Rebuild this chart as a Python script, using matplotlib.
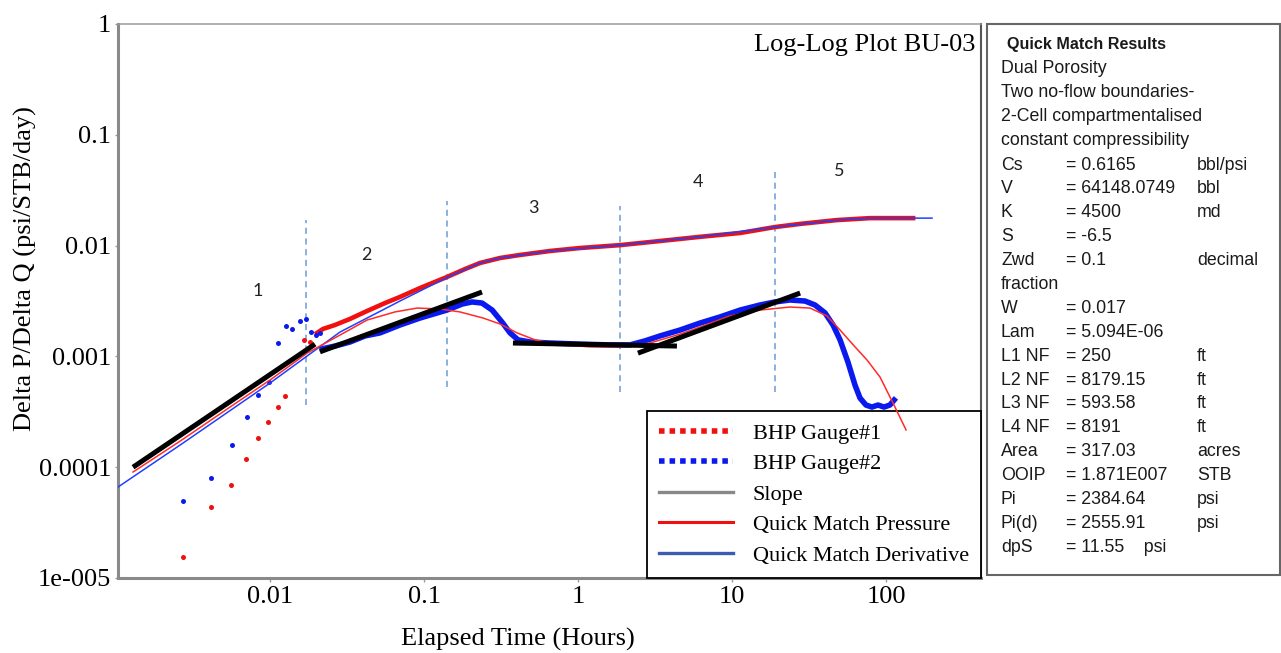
import matplotlib
matplotlib.use('Agg')
from matplotlib import pyplot as plt
from matplotlib import font_manager
from matplotlib.lines import Line2D
from matplotlib.patches import Rectangle
from matplotlib.ticker import FixedLocator, FixedFormatter, NullLocator

installed = {f.name for f in font_manager.fontManager.ttflist}
SERIF = 'Liberation Serif' if 'Liberation Serif' in installed else 'DejaVu Serif'
PANEL = 'Liberation Sans' if 'Liberation Sans' in installed else 'DejaVu Sans'
NUMS = 'Lato' if 'Lato' in installed else PANEL

# ---- data ----
# gauge 1 (red) early points + dense pressure curve
g1_early_t = [0.00272, 0.00414, 0.00558, 0.00698, 0.00836, 0.00971, 0.0113, 0.0125, 0.0166, 0.0182]
g1_early_p = [1.55e-5, 4.37e-5, 6.9e-5, 1.19e-4, 1.84e-4, 2.56e-4, 3.49e-4, 4.39e-4, 1.41e-3, 1.35e-3]
g1_t = [0.0202, 0.0221, 0.0264, 0.0331, 0.0427, 0.0558, 0.0698, 0.0942, 0.141, 0.185, 0.231,
        0.312, 0.420, 0.658, 1.03, 1.875, 3.41, 6.20, 11.3, 19.0, 27.7, 48.1, 78.7, 150]
g1_p = [1.63e-3, 1.77e-3, 1.92e-3, 2.18e-3, 2.57e-3, 3.03e-3, 3.44e-3, 4.14e-3, 5.21e-3, 6.15e-3, 6.97e-3,
        7.73e-3, 8.23e-3, 8.94e-3, 9.51e-3, 0.0101, 0.0110, 0.0120, 0.0130, 0.0147, 0.0157, 0.0170, 0.0177, 0.0177]

# gauge 2 (blue) early points + dense derivative curve
g2_early_t = [0.00272, 0.00414, 0.00566, 0.0071, 0.00836, 0.00985, 0.0113, 0.0127, 0.0139, 0.0157,
              0.0171, 0.0185, 0.0199, 0.0211]
g2_early_d = [4.95e-5, 8.0e-5, 1.59e-4, 2.84e-4, 4.49e-4, 5.87e-4, 1.32e-3, 1.88e-3, 1.77e-3, 2.09e-3,
              2.18e-3, 1.66e-3, 1.56e-3, 1.63e-3]
g2_t = [0.0218, 0.0264, 0.0331, 0.0414, 0.0518, 0.0698, 0.0942, 0.141, 0.177, 0.205, 0.238, 0.277,
        0.321, 0.362, 0.408, 0.488, 0.658, 1.03, 1.61, 2.18, 2.72, 3.41, 4.60, 6.20, 8.36, 11.3,
        15.2, 19.0, 23.8, 29.8, 34.6, 40.2, 45.3, 50.3, 56.6, 62.9, 67.8, 74.1, 81.1, 88.7, 97.1, 106, 113]
g2_d = [1.17e-3, 1.24e-3, 1.35e-3, 1.53e-3, 1.63e-3, 1.92e-3, 2.22e-3, 2.62e-3, 2.97e-3, 3.10e-3,
        3.03e-3, 2.62e-3, 2.04e-3, 1.63e-3, 1.41e-3, 1.35e-3, 1.32e-3, 1.29e-3, 1.27e-3, 1.27e-3,
        1.38e-3, 1.53e-3, 1.73e-3, 2.00e-3, 2.27e-3, 2.62e-3, 2.91e-3, 3.10e-3, 3.23e-3, 3.16e-3,
        2.91e-3, 2.47e-3, 1.92e-3, 1.41e-3, 8.9e-4, 5.52e-4, 4.21e-4, 3.64e-4, 3.49e-4, 3.64e-4,
        3.49e-4, 3.64e-4, 4.04e-4]

# quick match model curves
qm_p_t = [0.00103, 0.00272, 0.01, 0.0285, 0.0698, 0.141, 0.231, 0.312, 0.658, 1.875, 6.20, 19.0,
          48.1, 78.7, 150, 199]
qm_p = [6.62e-5, 1.65e-4, 5.75e-4, 1.66e-3, 3.16e-3, 5.15e-3, 6.97e-3, 7.73e-3, 8.94e-3, 0.0101,
        0.0120, 0.0147, 0.0170, 0.0177, 0.0177, 0.0177]
qm_d_t = [0.00129, 0.00261, 0.0055, 0.01, 0.0174, 0.0285, 0.0427, 0.0648, 0.0901, 0.127, 0.171,
          0.242, 0.312, 0.402, 0.526, 0.764, 1.20, 1.875, 2.93, 4.60, 6.20, 9.70, 15.2, 23.8,
          32.1, 41.4, 50.3, 62.9, 75.3, 91.4, 111, 135]
qm_d = [9.05e-5, 1.72e-4, 3.49e-4, 6.12e-4, 1.07e-3, 1.56e-3, 2.13e-3, 2.52e-3, 2.73e-3, 2.68e-3,
        2.52e-3, 2.22e-3, 1.96e-3, 1.63e-3, 1.41e-3, 1.27e-3, 1.22e-3, 1.22e-3, 1.32e-3, 1.59e-3,
        1.84e-3, 2.32e-3, 2.62e-3, 2.79e-3, 2.73e-3, 2.32e-3, 1.73e-3, 1.22e-3, 9.28e-4, 6.52e-4,
        3.80e-4, 2.17e-4]

# slope lines (start, end)
slope_t = [(0.00129, 0.0196), (0.0211, 0.238), (0.378, 4.39), (2.45, 27.7)]
slope_v = [(1.0e-4, 1.29e-3), (1.10e-3, 3.81e-3), (1.32e-3, 1.24e-3), (1.07e-3, 3.73e-3)]

# flow regime separators and labels
sep_t = [0.0171, 0.141, 1.875, 19.0]
sep_lo = [3.64e-4, 5.3e-4, 4.77e-4, 4.77e-4]
sep_hi = [0.0170, 0.0253, 0.0228, 0.0501]
regime_names = ['1', '2', '3', '4', '5']
regime_t = [0.00836, 0.0420, 0.510, 6.01, 49.5]
regime_v = [0.00389, 0.00822, 0.0218, 0.0375, 0.0471]

x_ticks = [0.01, 0.1, 1, 10, 100]
x_tick_labels = ['0.01', '0.1', '1', '10', '100']
y_ticks = [1e-5, 1e-4, 1e-3, 1e-2, 1e-1, 1]
y_tick_labels = ['1e-005', '0.0001', '0.001', '0.01', '0.1', '1']

legend_labels = ['BHP Gauge#1', 'BHP Gauge#2', 'Slope', 'Quick Match Pressure', 'Quick Match Derivative']

panel_header = 'Quick Match Results'
panel_lines = ['Dual Porosity', 'Two no-flow boundaries-', '2-Cell compartmentalised',
               'constant compressibility']
param_names = ['Cs', 'V', 'K', 'S', 'Zwd', 'fraction', 'W', 'Lam', 'L1 NF', 'L2 NF', 'L3 NF',
               'L4 NF', 'Area', 'OOIP', 'Pi', 'Pi(d)', 'dpS']
param_values = ['= 0.6165', '= 64148.0749', '= 4500', '= -6.5', '= 0.1', '', '= 0.017',
                '= 5.094E-06', '= 250', '= 8179.15', '= 593.58', '= 8191', '= 317.03',
                '= 1.871E007', '= 2384.64', '= 2555.91', '= 11.55    psi']
param_units = ['bbl/psi', 'bbl', 'md', '', 'decimal', '', '', '', 'ft', 'ft', 'ft', 'ft',
               'acres', 'STB', 'psi', 'psi', '']

# ---- figure ----
W, H = 1281, 653
fig = plt.figure(figsize=(W / 100, H / 100), dpi=100)

def fx(px):
    return px / W

def fy(py):
    return 1 - py / H

ax = fig.add_axes([fx(118), fy(578), fx(981) - fx(118), fy(24) - fy(578)])
ax.set_xscale('log')
ax.set_yscale('log')
ax.set_xlim(0.00103, 414)
ax.set_ylim(1e-5, 1)

RED = '#f01010'
BLUE = '#0a1aee'

ax.vlines(sep_t, sep_lo, sep_hi, colors='#6b9bd6', linestyles=(0, (4, 3)), linewidth=1.1, zorder=1)

ax.plot(g1_t, g1_p, color=RED, lw=3.3, zorder=3)
ax.plot(qm_p_t, qm_p, color='#2040ff', lw=1.1, zorder=4)
ax.plot(g2_t, g2_d, color=BLUE, lw=4.0, zorder=3)
# model derivative runs over the legend box at its tail, as in the source
ax.plot(qm_d_t, qm_d, color='#ff2a2a', lw=1.1, zorder=11)
ax.plot(g1_early_t, g1_early_p, 'o', color=RED, ms=3.6, mec='none', zorder=3)
ax.plot(g2_early_t, g2_early_d, 'o', color=BLUE, ms=3.6, mec='none', zorder=3)

for (t0, t1), (v0, v1) in zip(slope_t, slope_v):
    ax.plot([t0, t1], [v0, v1], color='black', lw=3.6, solid_capstyle='butt', zorder=12)

for name, t, v in zip(regime_names, regime_t, regime_v):
    ax.text(t, v, name, ha='center', va='center', fontsize=13, family=NUMS, color='#222222')

ax.text(0.993, 0.962, 'Log-Log Plot BU-03', transform=ax.transAxes, ha='right', va='center',
        fontsize=19, family=SERIF)

ax.xaxis.set_major_locator(FixedLocator(x_ticks))
ax.xaxis.set_major_formatter(FixedFormatter(x_tick_labels))
ax.xaxis.set_minor_locator(NullLocator())
ax.yaxis.set_major_locator(FixedLocator(y_ticks))
ax.yaxis.set_major_formatter(FixedFormatter(y_tick_labels))
ax.yaxis.set_minor_locator(NullLocator())
ax.tick_params(axis='x', length=3, width=1, color='#999999', pad=3, labelsize=19)
ax.tick_params(axis='y', length=2, width=1, color='#999999', pad=3, labelsize=19)
for lab in ax.get_xticklabels() + ax.get_yticklabels():
    lab.set_family(SERIF)

ax.spines['left'].set_color('#8a8a8a')
ax.spines['left'].set_linewidth(2.2)
ax.spines['bottom'].set_color('#8a8a8a')
ax.spines['bottom'].set_linewidth(2.2)
ax.spines['top'].set_color('#9a9a9a')
ax.spines['top'].set_linewidth(1.1)
ax.spines['right'].set_color('#555555')
ax.spines['right'].set_linewidth(1.5)

fig.text(fx(518), fy(639), 'Elapsed Time (Hours)', ha='center', va='center', fontsize=19, family=SERIF)
fig.text(fx(25), fy(269), 'Delta P/Delta Q (psi/STB/day)', ha='center', va='center', rotation=90,
         fontsize=19, family=SERIF)

handles = [
    Line2D([], [], color=RED, lw=4, ls=(0, (1, 0.9))),
    Line2D([], [], color=BLUE, lw=4, ls=(0, (1, 0.9))),
    Line2D([], [], color='#888888', lw=2.4),
    Line2D([], [], color=RED, lw=2.2),
    Line2D([], [], color='#3d5cb0', lw=2.4),
]
leg = ax.legend(handles, legend_labels, loc='lower right', bbox_to_anchor=(1, 0), borderaxespad=0,
                fancybox=False, framealpha=1, edgecolor='black',
                prop={'family': SERIF, 'size': 16}, handlelength=3.3, handletextpad=0.9,
                borderpad=0.55, labelspacing=0.45)
leg.get_frame().set_linewidth(1.3)
leg.set_zorder(10)

# ---- results panel ----
fig.patches.append(Rectangle((fx(987), fy(575)), fx(1280) - fx(987), fy(24) - fy(575),
                             transform=fig.transFigure, facecolor='white', edgecolor='#666666',
                             linewidth=1.5))

ROW = 23.9
fig.text(fx(1007), fy(45), panel_header, ha='left', va='center', fontsize=11.6, family=PANEL,
         weight='bold', color='#1a1a1a')
for i, line in enumerate(panel_lines):
    fig.text(fx(1001), fy(45 + (i + 1) * ROW), line, ha='left', va='center', fontsize=12.8,
             family=PANEL, color='#1a1a1a')
for i, (n, v, u) in enumerate(zip(param_names, param_values, param_units)):
    y = fy(165 + i * ROW)
    fig.text(fx(1001), y, n, ha='left', va='center', fontsize=12.8, family=PANEL, color='#1a1a1a')
    fig.text(fx(1066), y, v, ha='left', va='center', fontsize=12.8, family=PANEL, color='#1a1a1a')
    fig.text(fx(1197), y, u, ha='left', va='center', fontsize=12.8, family=PANEL, color='#1a1a1a')

fig.savefig('out.png', dpi=100)
